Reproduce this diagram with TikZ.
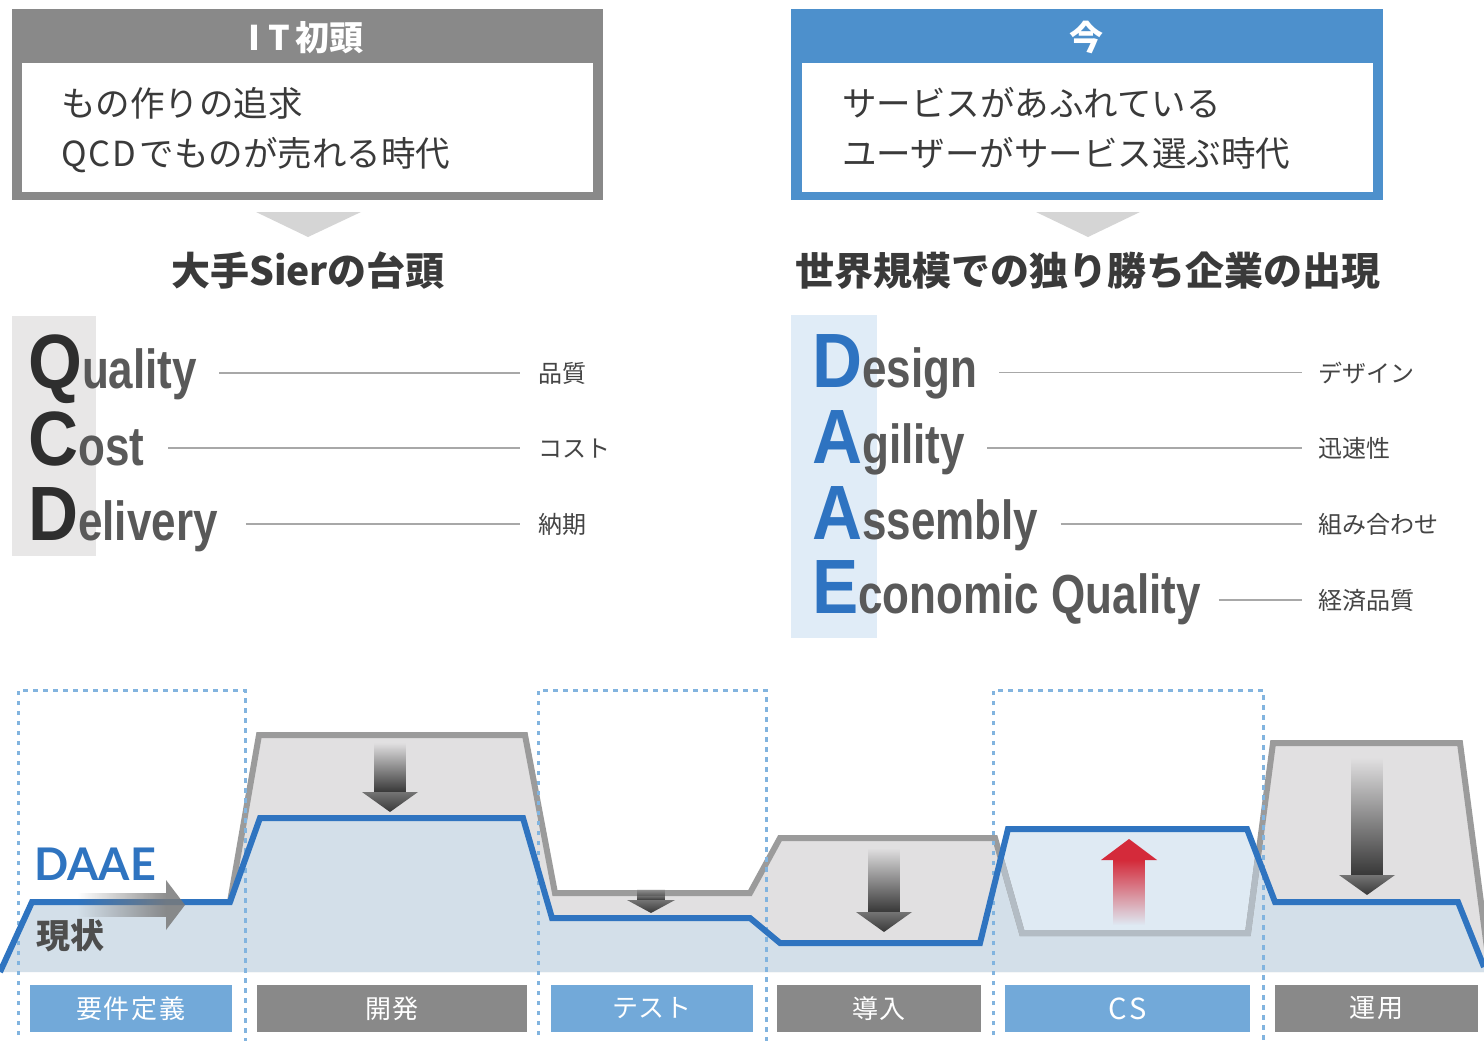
\documentclass[tikz,border=0pt]{standalone}
\usepackage{fontspec}
\usetikzlibrary{fadings,calc}
\setmainfont{Noto Sans CJK JP}
\newfontfamily\jp{Noto Sans CJK JP}
\newfontfamily\cond[FakeStretch=0.8]{Liberation Sans}
\newfontfamily\condbig[FakeStretch=0.9]{Liberation Sans}
\newfontfamily\lat{Lato}
\definecolor{hdrgray}{HTML}{898989}
\definecolor{hdrblue}{HTML}{4D90CC}
\definecolor{txt}{HTML}{3A3A3A}
\definecolor{tri}{HTML}{D5D5D5}
\definecolor{qbg}{HTML}{E8E7E7}
\definecolor{dbg}{HTML}{E0ECF7}
\definecolor{bigdark}{HTML}{2E2E2E}
\definecolor{wordgray}{HTML}{595959}
\definecolor{daablue}{HTML}{2E73C1}
\definecolor{rulegray}{HTML}{A8A8A8}
\definecolor{labtxt}{HTML}{444444}
\definecolor{gfill}{HTML}{E1E0E1}
\definecolor{bfill}{HTML}{D3DFE9}
\definecolor{csfill}{HTML}{DFEAF3}
\definecolor{gline}{HTML}{9B9B9B}
\definecolor{glinecs}{HTML}{B3BCC4}
\definecolor{bline}{HTML}{2F74C0}
\definecolor{dotc}{HTML}{82B4DF}
\definecolor{phblue}{HTML}{72A9D9}
\definecolor{phgray}{HTML}{898989}
\definecolor{arrd}{HTML}{383838}
\definecolor{arrred}{HTML}{D42A3A}
\definecolor{harr}{HTML}{7A7A7A}
\tikzfading[name=fadeS, top color=transparent!100, bottom color=transparent!0]
\tikzfading[name=fadeN, top color=transparent!0, bottom color=transparent!100]
\tikzfading[name=fadeE, left color=transparent!100, right color=transparent!0]
\newcommand{\bigL}[2]{{\condbig\bfseries\fontsize{77}{80}\selectfont\color{#1}#2}}
% cx, shaft top, head base, tip, shaft half width, head half width
\newcommand{\dnarrow}[6]{%
  \fill[arrd, path fading=fadeS] ({#1-#5},#2) rectangle ({#1+#5},#3);
  \shade[top color=arrd!70!white, bottom color=arrd] ({#1-#6},#3) -- ({#1+#6},#3) -- (#1,#4) -- cycle;}
\tikzset{
  word/.style={anchor=base west, inner sep=0pt, font=\cond\bfseries\fontsize{55}{60}\selectfont, text=wordgray},
  lab/.style={anchor=base west, inner sep=0pt, font=\jp\fontsize{24}{28}\selectfont, text=labtxt},
  rule/.style={draw=rulegray, line width=1.6pt},
  boxtext/.style={anchor=base west, inner sep=0pt, font=\jp\fontsize{34.5}{40}\selectfont, text=txt},
  hdr/.style={anchor=base, inner sep=0pt, font=\jp\bfseries\fontsize{34}{40}\selectfont, text=white},
  heading/.style={anchor=base, inner sep=0pt, font=\jp\bfseries\fontsize{39}{44}\selectfont, text=txt},
  phase/.style={inner sep=0pt, text=white, font=\jp\fontsize{26}{30}\selectfont, minimum height=47pt},
  dotbox/.style={draw=dotc, line width=3pt, dash pattern=on 4.5pt off 5.5pt},
}
\begin{document}
\begin{tikzpicture}[x=1pt,y=-1pt]
\useasboundingbox (0,0) rectangle (1484,1041);
\fill[white] (0,0) rectangle (1484,1041);

% ---------- top-left box ----------
\fill[hdrgray] (12,9) rectangle (603,200);
\fill[white] (22,63) rectangle (593,192);
\node[hdr] (t1) at (306,51) {I\hspace{8pt}T\hspace{5pt}初頭};
\node[boxtext] (l1a) at (61,116) {もの作りの追求};
\node[boxtext] (l1b) at (61,166) {Q\hspace{2pt}C\hspace{2pt}D\hspace{3pt}でものが売れる時代};
\fill[tri] (256,212) -- (361,212) -- (308,237) -- cycle;
\node[heading] (h1) at (308,285) {大手Sierの台頭};

% ---------- top-right box ----------
\fill[hdrblue] (791,9) rectangle (1383,200);
\fill[white] (802,63) rectangle (1373,192);
\node[hdr] (t2) at (1086,51) {今};
\node[boxtext] (r1a) at (842,116) {サービスがあふれている};
\node[boxtext] (r1b) at (842,166) {ユーザーがサービス選ぶ時代};
\fill[tri] (1036,212) -- (1140,212) -- (1088,237) -- cycle;
\node[heading] (h2) at (1088,285) {世界規模での独り勝ち企業の出現};

% ---------- QCD ----------
\fill[qbg] (12,316) rectangle (96,556);
\node[word] (wq) at (28,388) {\bigL{bigdark}{Q}uality};
\node[word] (wc) at (28,465) {\bigL{bigdark}{C}ost};
\node[word] (wd) at (28,540) {\bigL{bigdark}{D}elivery};
\node[lab] (lq) at (538,382) {品質};
\node[lab] (lc) at (538,457) {コスト};
\node[lab] (ld) at (538,533) {納期};
\coordinate (wqe) at ([xshift=22pt]wq.base east);
\coordinate (wce) at ([xshift=24pt]wc.base east);
\coordinate (wde) at ([xshift=28pt]wd.base east);
\draw[rule] (wqe |- lq.west) -- ([xshift=-18pt]lq.west);
\draw[rule] (wce |- lc.west) -- ([xshift=-18pt]lc.west);
\draw[rule] (wde |- ld.west) -- ([xshift=-18pt]ld.west);

% ---------- DAAE ----------
\fill[dbg] (791,315) rectangle (877,638);
\node[word] (wd2) at (812,387) {\bigL{daablue}{D}esign};
\node[word] (wa1) at (812,463) {\bigL{daablue}{A}gility};
\node[word] (wa2) at (812,539) {\bigL{daablue}{A}ssembly};
\node[word] (we) at (812,613) {\bigL{daablue}{E}conomic Quality};
\node[lab] (ld2) at (1318,382) {デザイン};
\node[lab] (la1) at (1318,457) {迅速性};
\node[lab] (la2) at (1318,533) {組み合わせ};
\node[lab] (le) at (1318,609) {経済品質};
\coordinate (wd2e) at ([xshift=22pt]wd2.base east);
\coordinate (wa1e) at ([xshift=22pt]wa1.base east);
\coordinate (wa2e) at ([xshift=22pt]wa2.base east);
\coordinate (wee) at ([xshift=18pt]we.base east);
\draw[rule] (wd2e |- ld2.west) -- ([xshift=-16pt]ld2.west);
\draw[rule] (wa1e |- la1.west) -- ([xshift=-16pt]la1.west);
\draw[rule] (wa2e |- la2.west) -- ([xshift=-16pt]la2.west);
\draw[rule] (wee |- le.west) -- ([xshift=-16pt]le.west);

% ---------- chart ----------
\def\gpath{(230,902) -- (259,735) -- (525,735) -- (555,893) -- (750,893) -- (780,838) -- (995,838) -- (1022,933) -- (1248,933) -- (1273,743) -- (1460,743) -- (1490,971)}
\def\bpath{(0,972) -- (32,902) -- (230,902) -- (260,818) -- (523,818) -- (552,918) -- (750,918) -- (780,943) -- (980,943) -- (1008,829) -- (1247,829) -- (1275,902) -- (1458,902) -- (1484,967)}
\fill[gfill] \gpath -- (1490,972) -- (230,972) -- cycle;
\fill[bfill] \bpath -- (1484,972) -- (0,972) -- cycle;
\begin{scope}
  \clip \bpath -- (1484,972) -- (0,972) -- cycle;
  \fill[csfill] (995,743) -- (995,838) -- (1022,933) -- (1248,933) -- (1273,743) -- cycle;
\end{scope}
\draw[gline, line width=6pt, line join=miter] \gpath;
\begin{scope}
  \clip \bpath -- (1484,972) -- (0,972) -- cycle;
  \draw[glinecs, line width=6pt, line join=miter] \gpath;
\end{scope}

% dotted boxes
\draw[dotbox] (18,1045) -- (18,690) -- (245,690) -- (245,1045);
\draw[dotbox] (538,1045) -- (538,690) -- (766,690) -- (766,1045);
\draw[dotbox] (993,1045) -- (993,690) -- (1263,690) -- (1263,1045);

% arrows
\dnarrow{390}{743}{792}{812}{16}{28}
\dnarrow{651}{888}{900}{913}{14}{24}
\dnarrow{884}{848}{912}{932}{16}{28}
\dnarrow{1367}{758}{875}{895}{16}{28}
\fill[arrred, path fading=fadeN] (1113,860) rectangle (1145,925);
\fill[arrred] (1101,860) -- (1157,860) -- (1129,839) -- cycle;

\draw[bline, line width=6pt, line join=miter] \bpath;

\fill[harr, opacity=0.85, path fading=fadeE] (78,893) rectangle (166,917);
\fill[harr, opacity=0.85] (166,880) -- (185,905) -- (166,930) -- cycle;

\node[anchor=base west, inner sep=0pt, font=\lat\bfseries\fontsize{45}{50}\selectfont, text=bline] (daae) at (34,880) {DAAE};
\node[anchor=base west, inner sep=0pt, font=\jp\bfseries\fontsize{34}{40}\selectfont, text=txt!90!white] (now) at (36,948) {現状};

% phase labels
\node[phase, fill=phblue, minimum width=202pt] (p1) at (131,1008.5) {要\hspace{2pt}件\hspace{2pt}定\hspace{2pt}義};
\node[phase, fill=phgray, minimum width=270pt] (p2) at (392,1008.5) {開\hspace{2pt}発};
\node[phase, fill=phblue, minimum width=202pt] (p3) at (652,1008.5) {テ\hspace{1pt}ス\hspace{1pt}ト};
\node[phase, fill=phgray, minimum width=204pt] (p4) at (879,1008.5) {導\hspace{2pt}入};
\node[phase, fill=phblue, minimum width=245pt, font=\jp\fontsize{29}{32}\selectfont] (p5) at (1127.5,1008.5) {C\hspace{2pt}S};
\node[phase, fill=phgray, minimum width=203pt] (p6) at (1376.5,1008.5) {運\hspace{2pt}用};
\end{tikzpicture}
\end{document}
